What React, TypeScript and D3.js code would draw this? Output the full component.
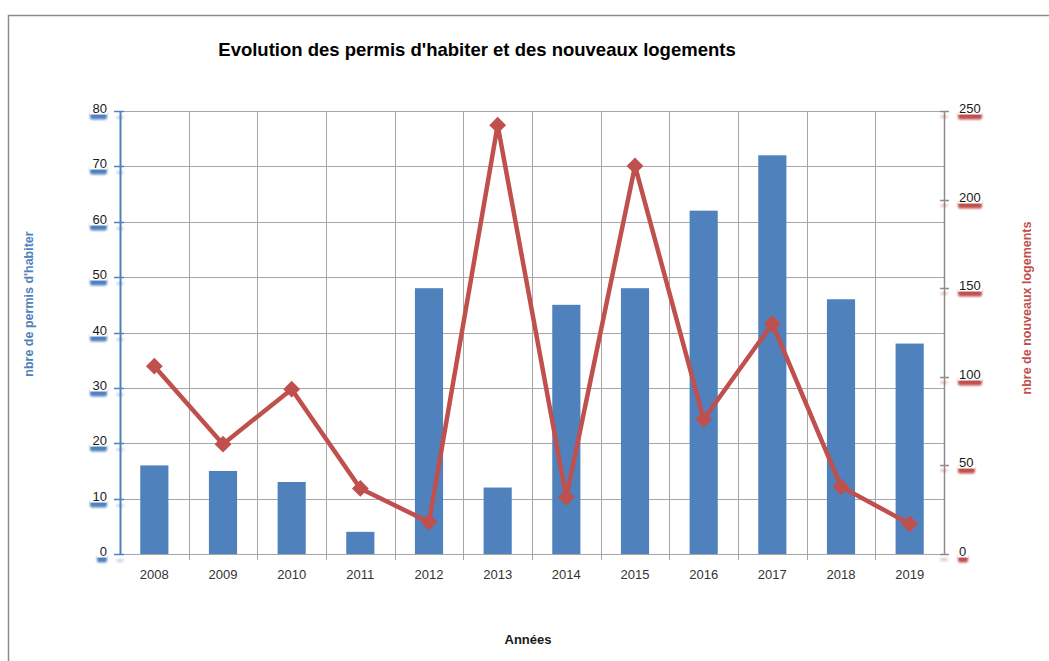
import { useEffect, useRef } from "react";
import * as d3 from "d3";

const years = ["2008", "2009", "2010", "2011", "2012", "2013", "2014", "2015", "2016", "2017", "2018", "2019"];
const permits = [16, 15, 13, 4, 48, 12, 45, 48, 62, 72, 46, 38];
const housing = [106, 62, 93, 37, 18, 242, 32, 219, 76, 130, 38, 17];
const leftTicks = [0, 10, 20, 30, 40, 50, 60, 70, 80];
const rightTicks = [0, 50, 100, 150, 200, 250];

const BLUE = "#4f81bd";
const RED = "#c0504d";
const FONT = "'Liberation Sans', Arial, sans-serif";

export default function App() {
  const svgRef = useRef<SVGSVGElement>(null);
  const width = 1049;
  const height = 661;

  useEffect(() => {
    if (!svgRef.current) return;
    const svg = d3.select(svgRef.current);
    svg.selectAll("*").remove();

    const margin = { top: 111, right: 105, bottom: 107, left: 120 };
    const innerWidth = width - margin.left - margin.right;
    const innerHeight = height - margin.top - margin.bottom;

    svg
      .append("defs")
      .append("filter")
      .attr("id", "blur")
      .attr("x", "-50%")
      .attr("y", "-50%")
      .attr("width", "200%")
      .attr("height", "200%")
      .append("feGaussianBlur")
      .attr("stdDeviation", 1.2);

    // chart frame
    svg
      .append("rect")
      .attr("x", 8.5)
      .attr("y", 15.5)
      .attr("width", width)
      .attr("height", height)
      .attr("fill", "white")
      .attr("stroke", "#8c8c8c")
      .attr("stroke-width", 1.5);

    const x = d3.scaleBand<string>().domain(years).range([0, innerWidth]);
    const yL = d3.scaleLinear().domain([0, 80]).range([innerHeight, 0]);
    const yR = d3.scaleLinear().domain([0, 250]).range([innerHeight, 0]);

    const g = svg.append("g").attr("transform", `translate(${margin.left},${margin.top})`);

    // horizontal gridlines
    g.selectAll("line.hgrid")
      .data(leftTicks)
      .join("line")
      .attr("x1", 0)
      .attr("x2", innerWidth)
      .attr("y1", (d) => Math.round(yL(d)) + 0.5)
      .attr("y2", (d) => Math.round(yL(d)) + 0.5)
      .attr("stroke", "#a6a6a6")
      .attr("stroke-width", 1);

    // vertical gridlines between categories
    g.selectAll("line.vgrid")
      .data(years.slice(1))
      .join("line")
      .attr("x1", (d) => Math.round(x(d)!) + 0.5)
      .attr("x2", (d) => Math.round(x(d)!) + 0.5)
      .attr("y1", 0)
      .attr("y2", innerHeight + 6)
      .attr("stroke", "#a6a6a6")
      .attr("stroke-width", 1);

    // bars
    const bw = x.bandwidth() * 0.41;
    g.selectAll("rect.bar")
      .data(permits)
      .join("rect")
      .attr("x", (_, i) => x(years[i])! + (x.bandwidth() - bw) / 2)
      .attr("y", (d) => yL(d))
      .attr("width", bw)
      .attr("height", (d) => innerHeight - yL(d))
      .attr("fill", BLUE);

    // left axis
    g.append("line")
      .attr("x1", 0.5)
      .attr("x2", 0.5)
      .attr("y1", 0)
      .attr("y2", innerHeight)
      .attr("stroke", BLUE)
      .attr("stroke-width", 2);
    leftTicks.forEach((t) => {
      const y = Math.round(yL(t)) + 0.5;
      g.append("line").attr("x1", -6).attr("x2", 4).attr("y1", y).attr("y2", y).attr("stroke", BLUE).attr("stroke-width", 1.5);
      g.append("ellipse").attr("cx", 0).attr("cy", y + 6).attr("rx", 4).attr("ry", 1.5).attr("fill", BLUE).attr("opacity", 0.35).attr("filter", "url(#blur)");
      const w = String(t).length * 7 + 3;
      g.append("rect").attr("x", -13 - w).attr("y", y + 1).attr("width", w).attr("height", 7).attr("rx", 2).attr("fill", BLUE).attr("filter", "url(#blur)");
      g.append("rect").attr("x", -13 - w).attr("y", y - 9).attr("width", w).attr("height", 12).attr("fill", "white");
      g.append("text")
        .attr("x", -13)
        .attr("y", y + 1)
        .attr("text-anchor", "end")
        .attr("font-family", FONT)
        .attr("font-size", 13)
        .attr("fill", "#1a1a1a")
        .text(t);
    });

    // right axis
    g.append("line")
      .attr("x1", innerWidth + 0.5)
      .attr("x2", innerWidth + 0.5)
      .attr("y1", 0)
      .attr("y2", innerHeight)
      .attr("stroke", "#8c8c8c")
      .attr("stroke-width", 1.5);
    rightTicks.forEach((t) => {
      const y = Math.round(yR(t)) + 0.5;
      g.append("line").attr("x1", innerWidth - 4).attr("x2", innerWidth + 5).attr("y1", y).attr("y2", y).attr("stroke", "#8c8c8c").attr("stroke-width", 1.5);
      g.append("ellipse").attr("cx", innerWidth).attr("cy", y + 5).attr("rx", 4).attr("ry", 1.5).attr("fill", RED).attr("opacity", 0.35).attr("filter", "url(#blur)");
      const w = String(t).length * 7 + 3;
      g.append("rect").attr("x", innerWidth + 14).attr("y", y + 1).attr("width", w).attr("height", 7).attr("rx", 2).attr("fill", RED).attr("filter", "url(#blur)");
      g.append("rect").attr("x", innerWidth + 14).attr("y", y - 9).attr("width", w).attr("height", 12).attr("fill", "white");
      g.append("text")
        .attr("x", innerWidth + 15)
        .attr("y", y + 1)
        .attr("text-anchor", "start")
        .attr("font-family", FONT)
        .attr("font-size", 13)
        .attr("fill", "#1a1a1a")
        .text(t);
    });
    // faint red shadow along right axis
    g.append("line")
      .attr("x1", innerWidth + 1)
      .attr("x2", innerWidth + 1)
      .attr("y1", 0)
      .attr("y2", innerHeight + 8)
      .attr("stroke", RED)
      .attr("stroke-width", 3)
      .attr("opacity", 0.12)
      .attr("filter", "url(#blur)");

    // x labels
    g.selectAll("text.xl")
      .data(years)
      .join("text")
      .attr("x", (d) => x(d)! + x.bandwidth() / 2)
      .attr("y", innerHeight + 25)
      .attr("text-anchor", "middle")
      .attr("font-family", FONT)
      .attr("font-size", 13)
      .attr("fill", "#333")
      .text((d) => d);

    // line series
    const line = d3
      .line<number>()
      .x((_, i) => x(years[i])! + x.bandwidth() / 2)
      .y((d) => yR(d));
    g.append("path")
      .datum(housing)
      .attr("d", line)
      .attr("fill", "none")
      .attr("stroke", RED)
      .attr("stroke-width", 4.5)
      .attr("stroke-linejoin", "miter");
    g.selectAll("path.marker")
      .data(housing)
      .join("path")
      .attr("d", d3.symbol().type(d3.symbolDiamond2).size(180))
      .attr("transform", (d, i) => `translate(${x(years[i])! + x.bandwidth() / 2},${yR(d)})`)
      .attr("fill", RED);

    // titles
    svg.append("text")
      .attr("x", 477)
      .attr("y", 56)
      .attr("text-anchor", "middle")
      .attr("font-family", FONT)
      .attr("font-weight", "bold")
      .attr("font-size", 18.5)
      .attr("fill", "#000")
      .text("Evolution des permis d'habiter et des nouveaux logements");

    svg.append("text")
      .attr("x", 528)
      .attr("y", 644)
      .attr("text-anchor", "middle")
      .attr("font-family", FONT)
      .attr("font-weight", "bold")
      .attr("font-size", 13)
      .attr("fill", "#1a1a1a")
      .text("Années");

    svg.append("text")
      .attr("transform", `translate(33,304) rotate(-90)`)
      .attr("text-anchor", "middle")
      .attr("font-family", FONT)
      .attr("font-weight", "bold")
      .attr("font-size", 12.5)
      .attr("fill", BLUE)
      .text("nbre de permis d'habiter");

    svg.append("text")
      .attr("transform", `translate(1031,308) rotate(-90)`)
      .attr("text-anchor", "middle")
      .attr("font-family", FONT)
      .attr("font-weight", "bold")
      .attr("font-size", 12.5)
      .attr("fill", RED)
      .text("nbre de nouveaux logements");
  }, []);

  return (
    <svg
      ref={svgRef}
      width={width}
      height={height}
      style={{ position: "absolute", left: 0, top: 0, background: "white" }}
    />
  );
}
